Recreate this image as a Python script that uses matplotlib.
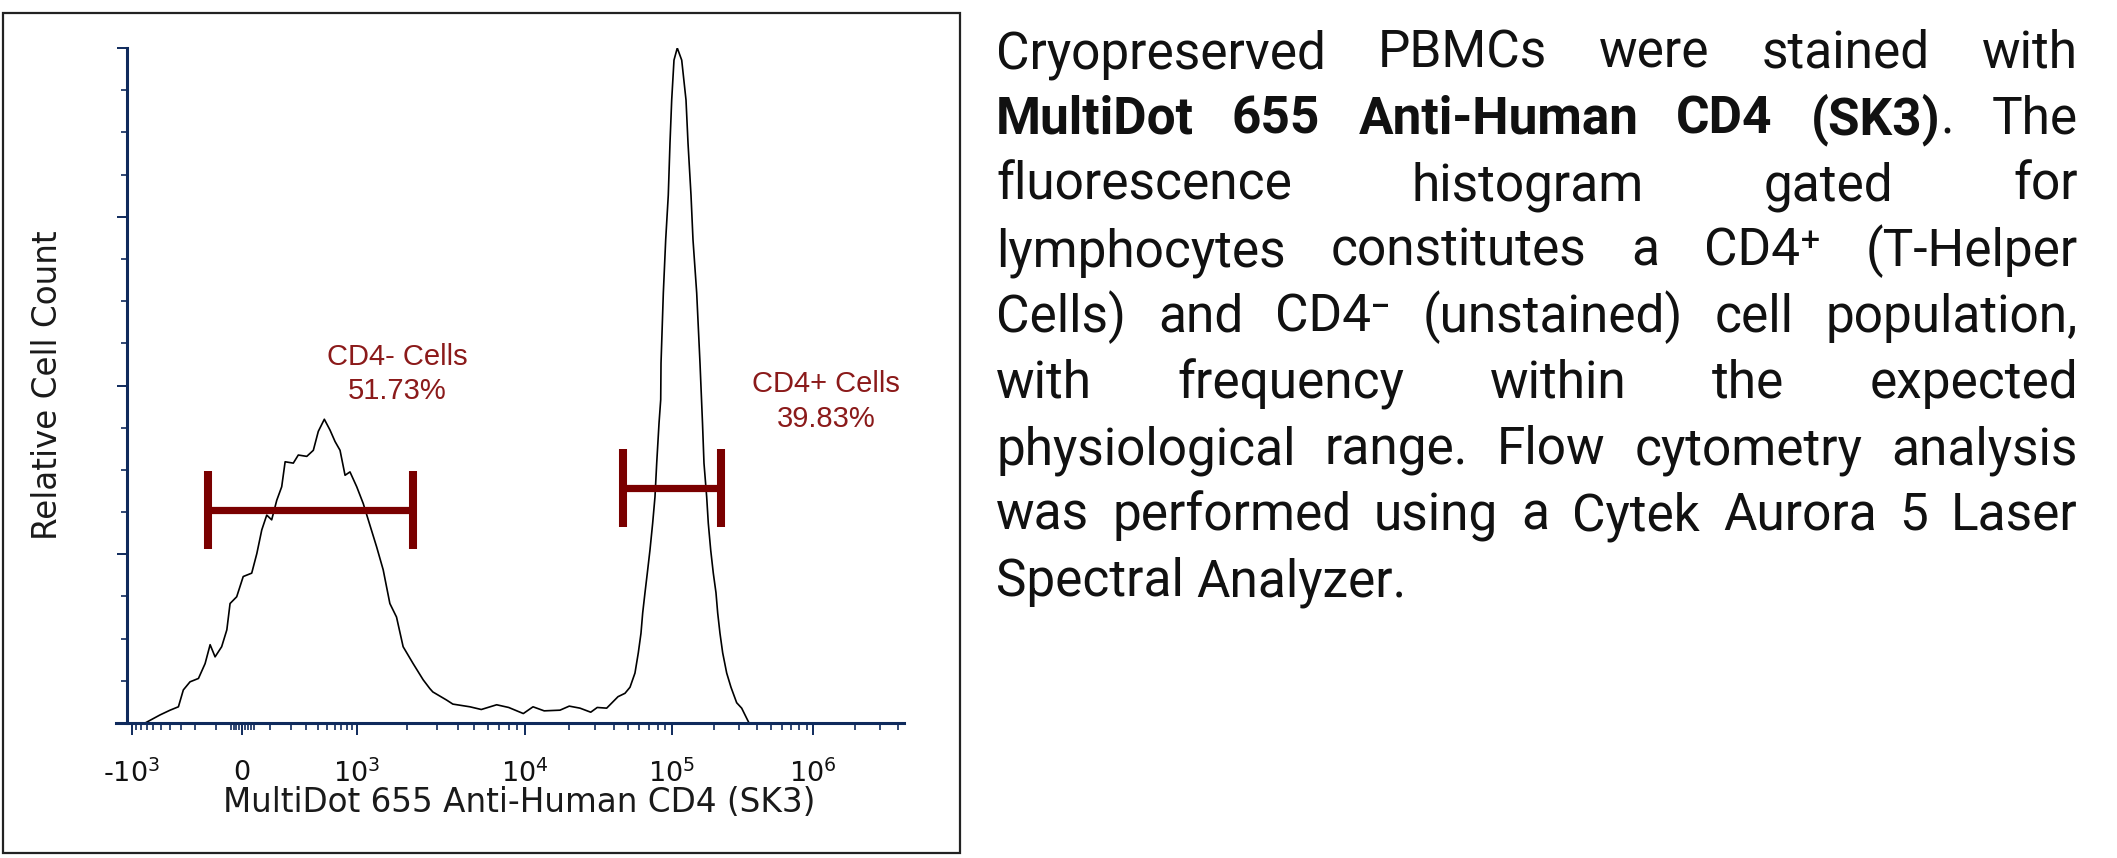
import numpy as np
import matplotlib
matplotlib.use('Agg')
import matplotlib.pyplot as plt
from matplotlib.patches import Rectangle
from matplotlib.transforms import IdentityTransform

# Histogram: fluorescence intensity vs relative cell count (peak = 100)
cd4_intensity = [-731, -648, -508, -396, -320, -281, -234, -183, -148, -124, -102, -75,
                 -55, -43, -19, 4, 33, 51, 69, 88, 108, 130, 153, 170, 215, 246, 306,
                 360, 406, 469, 536, 603, 677, 760, 851, 993, 1090, 1195, 1310, 1434,
                 1572, 1722, 1886, 2163, 2482, 2719, 2834, 3420, 3726, 4707, 5500,
                 6785, 8000, 9772, 11335, 13500, 17298, 20000, 23660, 28000, 31000,
                 35940, 42930, 47880, 51800, 55990, 58990, 61520, 63180, 65500, 67920,
                 70800, 73870, 76600, 78700, 81600, 83800, 84200, 87300, 90600, 94350,
                 96900, 99530, 103300, 109000, 117200, 125700, 129900, 136400, 140900,
                 149700, 158000, 164600, 168600, 176200, 180900, 188200, 196300, 205100,
                 210900, 218900, 228800, 244300, 262000, 287600, 312000, 338600, 352000]
cd4_counts = [0.0, 0.4, 1.2, 1.9, 2.4, 4.9, 6.1, 6.6, 8.8, 11.6, 9.8, 11.3,
              13.8, 17.7, 18.7, 21.7, 22.2, 25.1, 28.6, 30.8, 30.1, 33.0, 35.0, 38.7, 38.5, 39.7, 39.5,
              40.4, 43.2, 45.0, 43.4, 41.7, 40.4, 36.7, 37.2, 35.0, 32.5, 29.3, 26.1, 22.7,
              17.7, 15.7, 11.3, 8.8, 6.4, 5.1, 4.6, 3.4, 2.8, 2.4, 2.0,
              2.7, 2.3, 1.4, 2.4, 1.8, 1.9, 2.5, 2.2, 1.6, 2.3,
              2.2, 3.9, 4.4, 5.3, 7.4, 10.4, 13.3, 16.3, 19.3, 22.2,
              25.6, 29.6, 33.5, 38.5, 44.4, 47.9, 53.3, 63.7, 71.6, 78.2,
              85.9, 92.3, 98.2, 100.0, 98.2, 92.3, 85.9, 78.2, 71.6,
              63.7, 53.3, 44.4, 38.5, 33.5, 29.6, 25.6, 22.2, 19.3,
              16.3, 13.3, 10.4, 7.4, 5.3, 3.0, 2.2, 0.7, 0.0]

# Gates: name, lower and upper intensity, height on the count axis
gate_names = ['CD4- Cells', 'CD4+ Cells']
gate_percent = ['51.73%', '39.83%']
gate_low = [-134, 46400]
gate_high = [2154, 222600]
gate_level = [31.6, 34.8]
label_x = [1730, 1240000]
label_y = [51.7, 47.6]

major_ticks = [-1e3, 0, 1e3, 1e4, 1e5, 1e6]
major_labels = ['-$10^{3}$', '0', '$10^{3}$', '$10^{4}$', '$10^{5}$', '$10^{6}$']

description = [
    "Cryopreserved PBMCs were stained with",
    "**MultiDot 655 Anti-Human CD4 (SK3)**. The",
    "fluorescence histogram gated for",
    "lymphocytes constitutes a CD4\u207a (T-Helper",
    "Cells) and CD4\u207b (unstained) cell population,",
    "with frequency within the expected",
    "physiological range. Flow cytometry analysis",
    "was performed using a Cytek Aurora 5 Laser",
    "Spectral Analyzer.",
]

# biexponential-like display: decade anchors and where they sit on the axis
DISPLAY_VALS = np.array([-1e4, -1e3, 0, 1e3, 1e4, 1e5, 1e6, 1e7])
DISPLAY_POS = np.array([34.5, 132, 242, 357, 525, 672, 813, 954])
COF = 150.0
DISPLAY_S = np.arcsinh(DISPLAY_VALS / COF)


def fwd(x):
    return np.interp(np.arcsinh(np.asarray(x, dtype=float) / COF), DISPLAY_S, DISPLAY_POS)


def inv(p):
    return COF * np.sinh(np.interp(np.asarray(p, dtype=float), DISPLAY_POS, DISPLAY_S))


W, H = 2117, 858
NAVY = '#0f2a5c'
GATE = '#7a0000'
LABEL_RED = '#8b1a1a'

fig = plt.figure(figsize=(W / 100, H / 100), dpi=100)
ax = fig.add_axes([116 / W, (H - 723) / H, (903.7 - 116) / W, (723 - 48) / H])
ax.set_xscale('function', functions=(fwd, inv))
ax.set_xlim(-1464, 4.4e6)
ax.set_ylim(0, 100)

ax.plot(cd4_intensity, cd4_counts, color='black', lw=1.2)

for lo, hi, lvl in zip(gate_low, gate_high, gate_level):
    ax.hlines(lvl, lo, hi, color=GATE, lw=5.2)
    ax.vlines([lo, hi], lvl - 5.8, lvl + 5.8, color=GATE, lw=5.8)

for name, pct, lx, ly in zip(gate_names, gate_percent, label_x, label_y):
    ax.text(lx, ly, name + '\n' + pct, ha='center', va='center', color=LABEL_RED,
            fontsize=21, family='Liberation Sans', linespacing=1.3)

# axes styling
for side in ['top', 'right']:
    ax.spines[side].set_visible(False)
for side in ['left', 'bottom']:
    ax.spines[side].set_color(NAVY)
    ax.spines[side].set_linewidth(2.2)
ax.spines['left'].set_position(('data', -1128))

minor = []
for k in range(1, 5):
    minor += [k * 10, -k * 10]
for k in range(1, 10):
    minor += [k * 100, -k * 100]
for d in [3, 4, 5]:
    for k in range(2, 10):
        minor.append(k * 10 ** d)
minor += [2e6, 3e6, 4e6]
ax.set_xticks(major_ticks)
ax.set_xticklabels(major_labels)
ax.set_xticks(minor, minor=True)
ax.set_yticks([0, 25, 50, 75, 100])
ax.set_yticks(np.arange(0, 100, 6.25), minor=True)
ax.set_yticklabels([])

ax.tick_params(axis='x', which='major', length=8.6, width=1.4, color=NAVY,
               labelsize=19.5, pad=18, labelcolor='#111111')
ax.tick_params(axis='x', which='minor', length=5, width=1.2, color=NAVY)
ax.tick_params(axis='y', which='major', length=7, width=1.4, color=NAVY)
ax.tick_params(axis='y', which='minor', length=4.5, width=1.2, color=NAVY)

ax.set_xlabel('MultiDot 655 Anti-Human CD4 (SK3)', fontsize=23.5, color='#1a1a1a', va='center')
ax.xaxis.set_label_coords((519 - 116) / 787.7, (723 - 803) / 675)
ax.set_ylabel('Relative Cell Count', fontsize=23.5, color='#1a1a1a', va='center')
ax.yaxis.set_label_coords((48 - 116) / 787.7, 0.5)

# frame around the chart panel
fig.add_artist(Rectangle((3 / W, 5 / H), 957 / W, 840 / H, transform=fig.transFigure,
                         fill=False, ec='#222222', lw=1.6))

# justified description on the right
renderer = fig.canvas.get_renderer()
BODY_FONT = ['Roboto', 'DejaVu Sans']
BODY_SIZE = 37
x_left, x_right = 996, 2078
bold = False
for i, line in enumerate(description):
    y = H - (68 + 66 * i)
    words = []
    for word in line.split(' '):
        segs = []
        for j, part in enumerate(word.split('**')):
            if j > 0:
                bold = not bold
            if part:
                t = fig.text(0, 0, part, transform=IdentityTransform(), fontsize=BODY_SIZE,
                             family=BODY_FONT, fontweight='bold' if bold else 'normal',
                             ha='left', va='baseline', color='#111111')
                segs.append((t, t.get_window_extent(renderer).width))
        words.append(segs)
    widths = [sum(w for _, w in segs) for segs in words]
    last = i == len(description) - 1
    gap = 0.25 * BODY_SIZE * 100 / 72 if last else (x_right - x_left - sum(widths)) / (len(words) - 1)
    x = x_left
    for segs in words:
        for t, w in segs:
            t.set_position((x, y))
            x += w
        x += gap

fig.savefig('out.png', dpi=100)
